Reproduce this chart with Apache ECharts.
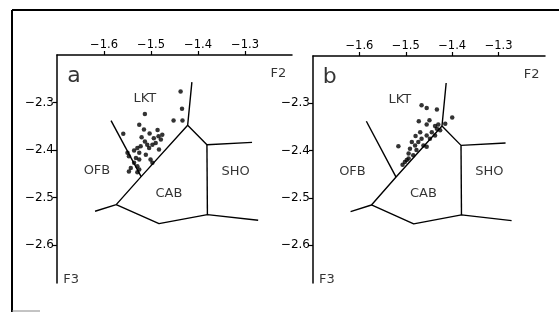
<!DOCTYPE html>
<html><head><meta charset="utf-8">
<script src="https://cdn.jsdelivr.net/npm/echarts@6/dist/echarts.min.js"></script>
<style>html,body{margin:0;padding:0;background:#fff}#c{width:559px;height:312px}</style>
</head><body><div id="c"></div>
<script>
// Axis ticks
const xTicks = [-1.6, -1.5, -1.4, -1.3];
const yTicks = [-2.3, -2.4, -2.5, -2.6];
// Field boundary polylines (F2, F3)
const boundaryUpper = [[-1.413, -2.257], [-1.422, -2.348], [-1.381, -2.389], [-1.285, -2.384]];
const boundaryShoCab = [[-1.381, -2.389], [-1.380, -2.536]];
const boundaryDiagonal = [[-1.422, -2.348], [-1.521, -2.456], [-1.574, -2.515], [-1.619, -2.529]];
const boundaryOfb = [[-1.585, -2.338], [-1.521, -2.456]];
const boundaryLower = [[-1.574, -2.515], [-1.483, -2.555], [-1.380, -2.536], [-1.272, -2.548]];
// Field labels
const fieldNames = ['LKT', 'OFB', 'CAB', 'SHO'];
const fieldPos = [[-1.513, -2.292], [-1.615, -2.444], [-1.462, -2.492], [-1.320, -2.445]];
const panelNames = ['a', 'b'];
// Samples, panel a
const samplesA = [
 [-1.437,-2.277],[-1.434,-2.313],[-1.452,-2.338],[-1.433,-2.338],[-1.513,-2.324],[-1.525,-2.347],
 [-1.486,-2.358],[-1.559,-2.366],[-1.520,-2.373],[-1.513,-2.382],[-1.508,-2.389],[-1.494,-2.375],
 [-1.484,-2.371],[-1.479,-2.378],[-1.476,-2.368],[-1.490,-2.385],[-1.497,-2.389],[-1.529,-2.396],
 [-1.522,-2.392],[-1.504,-2.396],[-1.536,-2.401],[-1.483,-2.399],[-1.547,-2.413],[-1.525,-2.406],
 [-1.532,-2.417],[-1.511,-2.410],[-1.525,-2.420],[-1.536,-2.427],[-1.543,-2.438],[-1.547,-2.445],
 [-1.529,-2.434],[-1.525,-2.441],[-1.501,-2.420],[-1.550,-2.406],[-1.503,-2.365],[-1.515,-2.357],
 [-1.497,-2.427],[-1.529,-2.447]
];
// Samples, panel b
const samplesB = [
 [-1.466,-2.304],[-1.455,-2.310],[-1.433,-2.313],[-1.400,-2.330],[-1.472,-2.338],[-1.449,-2.336],
 [-1.455,-2.345],[-1.437,-2.348],[-1.430,-2.345],[-1.433,-2.354],[-1.444,-2.361],[-1.455,-2.368],
 [-1.448,-2.375],[-1.466,-2.375],[-1.473,-2.382],[-1.462,-2.389],[-1.480,-2.389],[-1.487,-2.382],
 [-1.491,-2.396],[-1.477,-2.399],[-1.494,-2.406],[-1.484,-2.410],[-1.498,-2.420],[-1.494,-2.417],
 [-1.437,-2.368],[-1.426,-2.357],[-1.455,-2.392],[-1.502,-2.424],[-1.516,-2.391],[-1.469,-2.361],
 [-1.479,-2.369],[-1.415,-2.343],[-1.507,-2.430]
];

const FONT = 'DejaVu Sans';
const fmt = v => (v < 0 ? '\u2212' : '') + Math.abs(v).toFixed(1);
const chart = echarts.init(document.getElementById('c'), null, {renderer: 'canvas'});
const grids = [
  {left: 57, top: 55, width: 235, height: 228},
  {left: 313, top: 56, width: 232, height: 227}
];
const lineStyle = {color: '#000', width: 1.5};
function xAxis(i) {
  return {gridIndex: i, type: 'value', position: 'top', min: -1.7, max: -1.2,
    axisLine: {show: true, onZero: false, lineStyle: lineStyle},
    axisTick: {show: true, customValues: xTicks, length: 4, inside: false, lineStyle: {color: '#000', width: 1.2}},
    axisLabel: {show: true, customValues: xTicks, formatter: fmt, color: '#000', fontFamily: FONT, fontSize: 11.5, margin: 4},
    splitLine: {show: false}};
}
function yAxis(i) {
  return {gridIndex: i, type: 'value', min: -2.68, max: -2.2,
    axisLine: {show: true, onZero: false, lineStyle: lineStyle},
    axisTick: {show: true, customValues: yTicks, length: 4, lineStyle: {color: '#000', width: 1.2}},
    axisLabel: {show: true, customValues: yTicks, formatter: fmt, color: '#000', fontFamily: FONT, fontSize: 12, margin: 3},
    splitLine: {show: false}};
}
const series = [];
const boundaries = [boundaryUpper, boundaryShoCab, boundaryDiagonal, boundaryOfb, boundaryLower];
[0, 1].forEach(i => {
  boundaries.forEach(b => series.push({type: 'line', xAxisIndex: i, yAxisIndex: i, data: b,
    symbol: 'none', lineStyle: {color: '#000', width: 1.4}, silent: true, animation: false, clip: false}));
  series.push({type: 'scatter', xAxisIndex: i, yAxisIndex: i, data: i === 0 ? samplesA : samplesB,
    symbol: 'circle', symbolSize: 4.5, itemStyle: {color: '#000'}, animation: false});
  const ann = fieldNames.map((n, k) => ({name: n, value: fieldPos[k]}));
  ann.push({name: panelNames[i], value: [-1.664, -2.245], label: {fontSize: 22}});
  ann.push({name: 'F2', value: [-1.229, -2.24], label: {fontSize: 13}});
  ann.push({name: 'F3', value: [-1.67, -2.672], label: {fontSize: 13}});
  series.push({type: 'scatter', xAxisIndex: i, yAxisIndex: i, data: ann, symbolSize: 0, clip: false,
    animation: false, silent: true,
    label: {show: true, position: 'inside', formatter: '{b}', color: '#000', fontFamily: FONT, fontSize: 13}});
});
chart.setOption({
  animation: false,
  backgroundColor: '#fff',
  grid: grids,
  xAxis: [xAxis(0), xAxis(1)],
  yAxis: [yAxis(0), yAxis(1)],
  series: series,
  graphic: [
    {type: 'line', shape: {x1: 12, y1: 10, x2: 559, y2: 10}, style: {stroke: '#000', lineWidth: 2}},
    {type: 'line', shape: {x1: 12, y1: 10, x2: 12, y2: 312}, style: {stroke: '#000', lineWidth: 2}},
    {type: 'line', shape: {x1: 12, y1: 311, x2: 40, y2: 311}, style: {stroke: '#888', lineWidth: 1}}
  ]
});
</script></body></html>
